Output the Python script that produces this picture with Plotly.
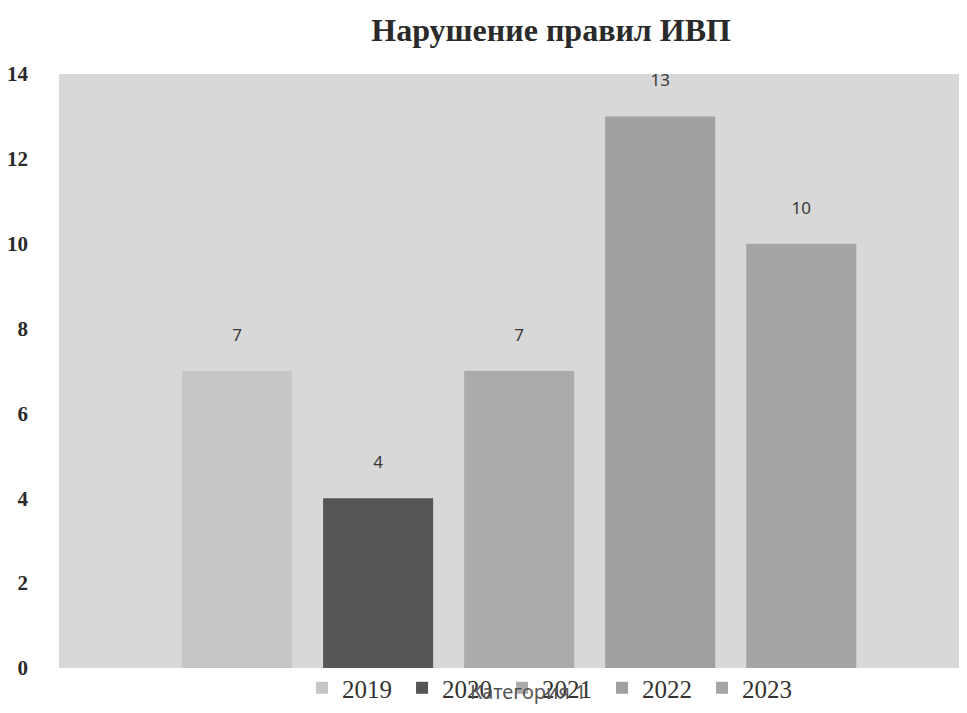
import plotly.graph_objects as go

categories = ["Категория 1"]
years = ["2019", "2020", "2021", "2022", "2023"]
values = [7, 4, 7, 13, 10]
colors = ["#c6c6c6", "#555555", "#ababab", "#a0a0a0", "#a5a5a5"]
y_ticks = [0, 2, 4, 6, 8, 10, 12, 14]

fig = go.Figure()
for yr, v, c in zip(years, values, colors):
    fig.add_trace(go.Bar(
        x=categories, y=[v], name=yr,
        marker=dict(color=c, line=dict(width=0)),
        text=[str(v) + "<br> "], textposition="outside", cliponaxis=False,
        textfont=dict(family="Noto Sans", size=17, color="#3a3a3a"),
    ))

fig.update_layout(
    width=959, height=705,
    margin=dict(l=51, r=0, t=66, b=45, autoexpand=False),
    paper_bgcolor="white", plot_bgcolor="#d8d8d8",
    barmode="group", bargap=0.2, bargroupgap=0.22,
    title=dict(text="Нарушение правил ИВП", x=0.542, xref="paper", xanchor="center",
               y=0.969, yanchor="middle", automargin=False,
               font=dict(family="Liberation Serif", size=32, color="#2a2a2a", weight=700)),
    xaxis=dict(range=[-0.522, 0.508], showticklabels=False, showgrid=False, automargin=False,
               zeroline=False, showline=False, fixedrange=True),
    yaxis=dict(range=[0, 14], tickvals=y_ticks, showgrid=False, zeroline=False, automargin=False,
               showline=False, ticks="", ticklabelstandoff=30,
               tickfont=dict(family="Liberation Serif", size=21, color="#2a2a2a", weight=700)),
    legend=dict(orientation="h", x=0.543, xanchor="center", y=0.005, yanchor="top",
                entrywidth=55, entrywidthmode="pixels", itemwidth=30,
                font=dict(family="Liberation Serif", size=25, color="#333333"),
                bgcolor="rgba(0,0,0,0)"),
    showlegend=True,
    annotations=[dict(text="Категория 1", xref="paper", yref="paper", x=0.517, y=-0.039,
                      xanchor="center", yanchor="middle", showarrow=False,
                      font=dict(family="Noto Sans", size=20, color="#555555"))],
)

fig.write_html("out.html")
